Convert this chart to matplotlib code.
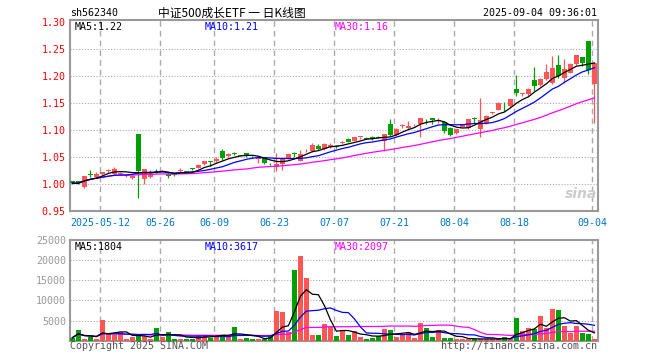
import numpy as np
import pandas as pd
import matplotlib
matplotlib.use('Agg')
import matplotlib.pyplot as plt

plt.rcParams['font.family'] = ['DejaVu Sans Mono', 'Noto Sans CJK SC']

# daily K data, 2025-04-30 .. 2025-09-04 (one entry per trading day)
opens = [1.005, 1.005, 0.994, 1.018, 1.0125, 1.019, 1.024, 1.0175, 1.0175, 1.014,
         1.010, 1.0925, 1.008, 1.013, 1.0235, 1.022, 1.019, 1.018, 1.024, 1.0225,
         1.028, 1.030, 1.036, 1.041, 1.042, 1.0606, 1.051, 1.057, 1.052, 1.057,
         1.050, 1.046, 1.049, 1.037, 1.032, 1.037, 1.047, 1.056, 1.0425, 1.060,
         1.060, 1.0706, 1.064, 1.0675, 1.0705, 1.075, 1.0835, 1.080, 1.0865, 1.0855,
         1.087, 1.087, 1.080, 1.111, 1.091, 1.107, 1.104, 1.110, 1.111, 1.120,
         1.1225, 1.117, 1.114, 1.103, 1.094, 1.106, 1.1025, 1.122, 1.101, 1.1125,
         1.131, 1.137, 1.139, 1.1445, 1.1765, 1.166, 1.166, 1.1925, 1.1835, 1.194,
         1.1875, 1.221, 1.197, 1.206, 1.2215, 1.235, 1.265, 1.1845]
highs = [1.006, 1.006, 1.015, 1.026, 1.022, 1.022, 1.027, 1.031, 1.022, 1.019,
         1.016, 1.0925, 1.028, 1.025, 1.027, 1.025, 1.021, 1.019, 1.030, 1.023,
         1.029, 1.036, 1.042, 1.042, 1.049, 1.064, 1.057, 1.058, 1.054, 1.057,
         1.051, 1.052, 1.050, 1.038, 1.057, 1.048, 1.056, 1.058, 1.0625, 1.064,
         1.076, 1.073, 1.075, 1.0755, 1.071, 1.080, 1.084, 1.087, 1.0875, 1.086,
         1.088, 1.088, 1.093, 1.120, 1.103, 1.110, 1.1165, 1.111, 1.122, 1.120,
         1.1225, 1.122, 1.115, 1.106, 1.102, 1.111, 1.121, 1.124, 1.159, 1.127,
         1.134, 1.151, 1.152, 1.158, 1.201, 1.168, 1.177, 1.2165, 1.196, 1.2215,
         1.237, 1.239, 1.231, 1.2235, 1.239, 1.236, 1.265, 1.225]
lows = [1.000, 0.999, 0.992, 1.0125, 1.012, 1.017, 1.021, 1.016, 1.016, 1.013,
        1.009, 0.974, 0.999, 1.011, 1.020, 1.021, 1.011, 1.014, 1.022, 1.021,
        1.026, 1.029, 1.035, 1.033, 1.041, 1.044, 1.050, 1.054, 1.051, 1.049,
        1.048, 1.038, 1.036, 1.035, 1.024, 1.026, 1.046, 1.050, 1.042, 1.058,
        1.059, 1.062, 1.063, 1.066, 1.066, 1.073, 1.077, 1.079, 1.083, 1.083,
        1.082, 1.084, 1.060, 1.089, 1.089, 1.103, 1.101, 1.108, 1.0865, 1.111,
        1.111, 1.113, 1.094, 1.089, 1.093, 1.105, 1.101, 1.112, 1.087, 1.110,
        1.130, 1.136, 1.135, 1.143, 1.162, 1.163, 1.163, 1.172, 1.181, 1.192,
        1.1845, 1.197, 1.1865, 1.205, 1.220, 1.2185, 1.204, 1.112]
closes = [1.001, 1.001, 1.014, 1.017, 1.019, 1.021, 1.0255, 1.027, 1.020, 1.017,
          1.014, 1.024, 1.027, 1.019, 1.022, 1.024, 1.015, 1.016, 1.025, 1.022,
          1.027, 1.035, 1.042, 1.040, 1.046, 1.0475, 1.0556, 1.056, 1.053, 1.0506,
          1.049, 1.047, 1.038, 1.036, 1.037, 1.047, 1.055, 1.055, 1.056, 1.061,
          1.071, 1.064, 1.074, 1.0725, 1.0675, 1.078, 1.078, 1.0865, 1.087, 1.0835,
          1.083, 1.085, 1.092, 1.091, 1.102, 1.109, 1.108, 1.111, 1.1215, 1.1195,
          1.118, 1.118, 1.097, 1.091, 1.101, 1.110, 1.1205, 1.121, 1.1185, 1.126,
          1.132, 1.1505, 1.138, 1.157, 1.1685, 1.167, 1.176, 1.1815, 1.195, 1.208,
          1.2155, 1.200, 1.2135, 1.223, 1.238, 1.2245, 1.2105, 1.224]
volumes = [750, 2670, 420, 920, 400, 5250, 1670, 1500, 2080, 420,
           920, 1500, 1080, 500, 3170, 920, 2170, 500, 420, 500,
           500, 1500, 1500, 670, 1500, 1500, 1400, 3420, 500, 670,
           420, 420, 500, 1400, 7420, 7170, 2080, 17670, 20920, 15500,
           1500, 1500, 4170, 3400, 1250, 2330, 1420, 2330, 920, 420,
           750, 1250, 2920, 2670, 920, 1500, 2080, 750, 4420, 3170,
           920, 2670, 750, 750, 420, 420, 420, 420, 500, 420,
           420, 420, 920, 420, 5700, 2420, 3170, 3000, 6170, 3100,
           7920, 7670, 3670, 2000, 3670, 1920, 1670, 420]

tick_idx = [5, 15, 24, 34, 44, 54, 64, 74, 87]
tick_labels = ['2025-05-12', '05-26', '06-09', '06-23', '07-07', '07-21', '08-04', '08-18', '09-04']
price_ticks = [0.95, 1.00, 1.05, 1.10, 1.15, 1.20, 1.25, 1.30]
vol_ticks = [5000, 10000, 15000, 20000, 25000]

RED = '#FF5555'
GREEN = '#00A000'
GRID = '#AAAAAA'
W, H = 660.0, 360.0

o = np.array(opens); h = np.array(highs); l = np.array(lows); c = np.array(closes)
v = np.array(volumes)
n = len(c)
x = np.arange(n) + 0.4
cols = [RED if c[i] >= o[i] else GREEN for i in range(n)]

cs = pd.Series(c)
vs = pd.Series(v, dtype=float)
ma = {p: cs.rolling(p, min_periods=1).mean() for p in (5, 10, 30)}
vma = {p: vs.rolling(p, min_periods=1).mean() for p in (5, 10, 30)}
ma_col = {5: 'black', 10: '#0000FF', 30: '#FF00FF'}

fig = plt.figure(figsize=(6.6, 3.6), dpi=100)
ax1 = fig.add_axes([70 / W, 1 - 211 / H, 528 / W, 191 / H])
ax2 = fig.add_axes([70 / W, 1 - 340.7 / H, 528 / W, 100.7 / H])

def frame(ax, yt, ycol):
    ax.set_xlim(0, 88)
    for s in ax.spines.values():
        s.set_color('#999999')
        s.set_linewidth(1.5)
    ax.set_xticks([])
    ax.set_yticks(yt)
    ax.tick_params(axis='y', length=0, pad=3, labelsize=7.2, labelcolor=ycol)
    for k in tick_idx:
        ax.axvline(k, color=GRID, lw=1, ls=(0, (4, 3)), zorder=1)

# price panel
frame(ax1, price_ticks, '#FF0000')
ax1.set_ylim(0.9495, 1.3037)
ax1.set_yticklabels(['%.2f' % t for t in price_ticks])
for t in price_ticks[1:-1]:
    ax1.axhline(t, color=GRID, lw=0.8, ls=(0, (1, 1.6)), zorder=1)
ax1.vlines(x, l, h, colors=cols, lw=0.9, zorder=3)
body = np.maximum(np.abs(c - o), 0.0015)
ax1.bar(x, body, width=0.78, bottom=np.minimum(o, c), color=cols, linewidth=0, zorder=3)
for p in (30, 10, 5):
    ax1.plot(x, ma[p], color=ma_col[p], lw=0.9, zorder=4)

tr = ax1.get_xaxis_transform()
for k, lab in zip(tick_idx, tick_labels):
    ax1.text(0 if k == tick_idx[0] else k, -0.035, lab, transform=tr,
             ha='left' if k == tick_idx[0] else 'center', va='top',
             color='#0077CC', fontsize=7.2)

# volume panel
frame(ax2, vol_ticks, '#999999')
ax2.set_ylim(0, 25000)
ax2.set_yticklabels([str(t) for t in vol_ticks])
for t in vol_ticks[:-1]:
    ax2.axhline(t, color=GRID, lw=0.8, ls=(0, (1, 1.6)), zorder=1)
ax2.bar(x, v, width=0.78, color=cols, linewidth=0, zorder=3)
for p in (30, 10, 5):
    ax2.plot(x, vma[p], color=ma_col[p], lw=0.9, zorder=4)

def ftext(px, py, s, **kw):
    fig.text(px / W, 1 - py / H, s, va='baseline', **kw)

ftext(70, 16.5, 'sh562340', fontsize=7.2, color='black')
ftext(232, 16.5, '中证500成长ETF 一 日K线图', fontsize=8.5, ha='center',
      family=['Noto Sans CJK SC', 'DejaVu Sans'], color='black')
ftext(597, 16.5, '2025-09-04 09:36:01', fontsize=7.2, ha='right', color='black')

ftext(75, 29.5, 'MA5:1.22', fontsize=7.2, color='black')
ftext(205, 29.5, 'MA10:1.21', fontsize=7.2, color='#0000FF')
ftext(335, 29.5, 'MA30:1.16', fontsize=7.2, color='#FF00FF')
ftext(75, 250, 'MA5:1804', fontsize=7.2, color='black')
ftext(205, 250, 'MA10:3617', fontsize=7.2, color='#0000FF')
ftext(335, 250, 'MA30:2097', fontsize=7.2, color='#FF00FF')

ftext(70, 349, 'Copyright 2025 SINA.COM', fontsize=7.2, color='#555555')
ftext(597, 349, 'http://finance.sina.com.cn', fontsize=7.2, ha='right', color='#555555')
ftext(581, 198, 'sina', fontsize=10, ha='center', color='#CCCCCC',
      fontweight='bold', style='italic', family='DejaVu Sans')

fig.savefig('out.png', dpi=100, facecolor='white')
